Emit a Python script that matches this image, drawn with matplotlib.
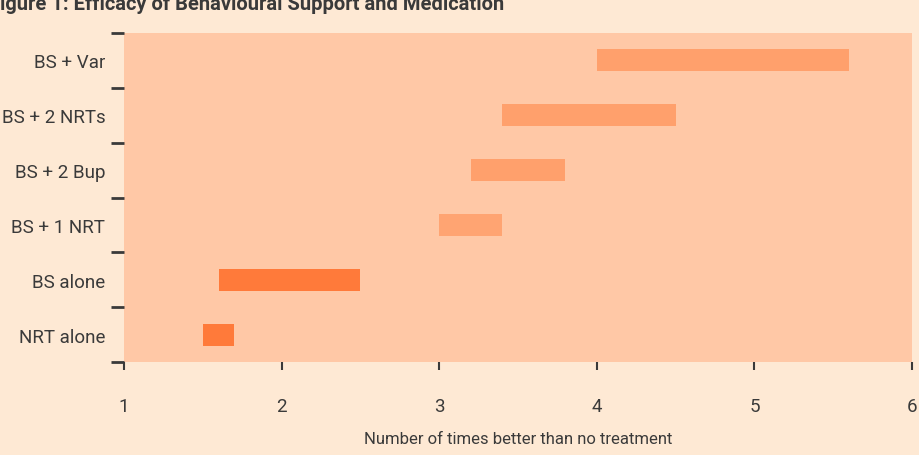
import matplotlib
matplotlib.use('Agg')
import matplotlib.pyplot as plt

# treatments, bottom to top, with start/end of the range (times better than no treatment)
treatments = ['NRT alone', 'BS alone', 'BS + 1 NRT', 'BS + 2 Bup', 'BS + 2 NRTs', 'BS + Var']
low = [1.5, 1.6, 3.0, 3.2, 3.4, 4.0]
high = [1.7, 2.5, 3.4, 3.8, 4.5, 5.6]
bar_colors = ['#FF7A3A', '#FF7A3A', '#FFA472', '#FFA06C', '#FFA06C', '#FFA06C']
xticks = [1, 2, 3, 4, 5, 6]

plt.rcParams['font.family'] = ['Roboto', 'DejaVu Sans']
text_col = '#3a3a3a'

fig = plt.figure(figsize=(9.19, 4.56), dpi=100, facecolor='#FEE9D4')
ax = fig.add_axes([124 / 919, 93 / 456, 788 / 919, 329 / 456])
ax.set_facecolor('#FFC8A6')

y = range(len(treatments))
widths = [h - l for l, h in zip(low, high)]
ax.barh(y, widths, left=low, height=0.4, color=bar_colors)

ax.set_xlim(1, 6)
ax.set_ylim(-0.5, len(treatments) - 0.5)
ax.set_xticks(xticks)
ax.set_xticklabels([str(t) for t in xticks], fontsize=13.5, color=text_col)
ax.tick_params(axis='x', length=6, width=1.5, color=text_col, pad=19)

# category labels between the boundary ticks
ax.set_yticks([i + 0.5 for i in range(-1, len(treatments))])
ax.set_yticklabels([])
ax.set_yticks(list(y), minor=True)
ax.set_yticklabels(treatments, minor=True, fontsize=13.5, color=text_col)
ax.tick_params(axis='y', which='major', length=9.5, width=2, color=text_col)
ax.tick_params(axis='y', which='minor', length=0, pad=13.5)

for s in ax.spines.values():
    s.set_visible(False)

ax.set_xlabel('Number of times better than no treatment', fontsize=12, color=text_col, va='center')
ax.xaxis.set_label_coords(0.5, -77 / 329)

fig.text(-0.012, 0.99, 'Figure 1: Efficacy of Behavioural Support and Medication',
         fontsize=14.5, fontweight='bold', color=text_col, va='center', ha='left')

fig.savefig('out.png', dpi=100, facecolor=fig.get_facecolor())
